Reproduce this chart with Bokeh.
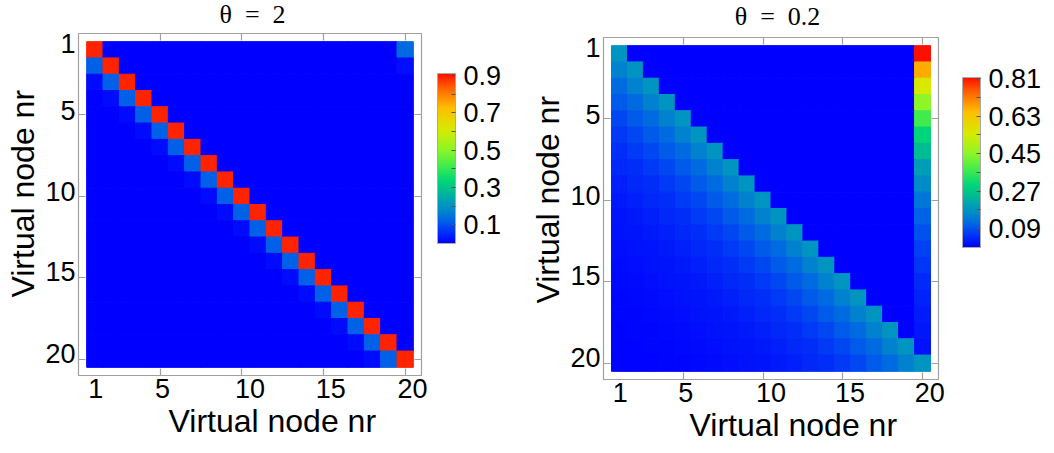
import numpy as np
from bokeh.plotting import figure
from bokeh.models import (ColumnDataSource, LinearColorMapper, ColorBar, FixedTicker,
                          LinearAxis, Range1d, Title, Label)
from bokeh.layouts import row, column
from bokeh.embed import file_html
from bokeh.resources import INLINE

# ---------------- data ----------------
nodes = list(range(1, 21))
tick_labels = ["1", "5", "10", "15", "20"]
tick_marks = [5, 10, 15, 20]
# where the tick labels sit (the reference nudges them off the tick marks)
x_label_pos = [1.05, 5.15, 10.5, 15.45, 20.45]
y_label_pos = [0.62, 4.72, 9.68, 14.6, 19.63]

# theta = 2 : value on the diagonal band k below the diagonal (k = 0..19)
theta2_band = [0.89, 0.12, 0.016, 0.002, 0.0003, 0.0, 0.0, 0.0, 0.0, 0.0,
               0.0, 0.0, 0.0, 0.0, 0.0, 0.0, 0.0, 0.0, 0.0, 0.0]
# theta = 2 : last column (node 20), rows 1..19
theta2_last_col = [0.135, 0.018, 0.0025, 0.0003, 0.0, 0.0, 0.0, 0.0, 0.0, 0.0,
                   0.0, 0.0, 0.0, 0.0, 0.0, 0.0, 0.0, 0.0, 0.0]
theta2_cbar_ticks = [0.1, 0.3, 0.5, 0.7, 0.9]
theta2_cbar_minor = [0.2, 0.4, 0.6, 0.8]
theta2_cbar_max = 0.91

# theta = 0.2
theta02_band = [0.18, 0.15, 0.12, 0.10, 0.081, 0.066, 0.054, 0.045, 0.037, 0.030,
                0.024, 0.020, 0.016, 0.013, 0.011, 0.009, 0.0074, 0.006, 0.005, 0.004]
theta02_last_col = [0.82, 0.67, 0.55, 0.45, 0.37, 0.30, 0.25, 0.20, 0.165, 0.135,
                    0.11, 0.09, 0.074, 0.061, 0.05, 0.041, 0.033, 0.027, 0.022]
theta02_cbar_ticks = [0.09, 0.27, 0.45, 0.63, 0.81]
theta02_cbar_minor = [0.18, 0.36, 0.54, 0.72]
theta02_cbar_max = 0.815

# ---------------- palette ----------------
stops = [(0.00, (0, 0, 255)), (0.09, (0, 65, 245)), (0.135, (0, 100, 230)),
         (0.20, (0, 140, 200)), (0.25, (0, 160, 180)), (0.30, (0, 185, 150)),
         (0.37, (0, 215, 120)), (0.45, (60, 235, 80)), (0.55, (140, 245, 40)),
         (0.67, (215, 235, 0)), (0.80, (255, 190, 0)), (0.92, (255, 95, 0)),
         (1.00, (255, 15, 0))]
sf = np.array([s[0] for s in stops])
sc = np.array([s[1] for s in stops], dtype=float)
palette = []
for t in np.linspace(0, 1, 256):
    r = np.interp(t, sf, sc[:, 0]); g = np.interp(t, sf, sc[:, 1]); b = np.interp(t, sf, sc[:, 2])
    palette.append("#%02x%02x%02x" % (int(round(r)), int(round(g)), int(round(b))))

FONT = "Liberation Sans"
GRAY = "#a0a0a0"
SP = "\u2002"


def build_matrix(band, last_col):
    xs, ys, vs = [], [], []
    for i in nodes:
        for j in nodes:
            if j <= i:
                v = band[i - j]
            elif j == 20:
                v = last_col[i - 1]
            else:
                v = 0.0
            xs.append(j); ys.append(i); vs.append(v)
    return ColumnDataSource(dict(x=xs, y=ys, v=vs))


def panel(title, band, last_col, cticks, cminor, cmax, fw, fh, bl, br, bt, bb,
          cb_loc, xt_off, yt_off, title_x, title_y):
    p = figure(frame_width=fw, frame_height=fh, x_range=Range1d(0, 21), y_range=Range1d(21, 0),
               output_backend="svg", toolbar_location=None,
               min_border_left=bl, min_border_right=br, min_border_top=bt, min_border_bottom=bb)
    p.title = None
    p.grid.visible = False
    p.outline_line_color = GRAY
    p.outline_line_width = 1.2
    p.background_fill_color = "white"
    p.border_fill_color = "white"

    mapper = LinearColorMapper(palette=palette, low=0, high=cmax)
    src = build_matrix(band, last_col)
    p.rect(x="x", y="y", width=1, height=1, source=src,
           fill_color={"field": "v", "transform": mapper},
           line_color={"field": "v", "transform": mapper}, line_width=1)

    for ax, pos in ((p.xaxis[0], x_label_pos), (p.yaxis[0], y_label_pos)):
        ax.ticker = FixedTicker(ticks=pos, minor_ticks=tick_marks)
        ax.major_label_overrides = {v: s for v, s in zip(pos, tick_labels)}
        ax.axis_line_color = None
        ax.major_tick_line_color = None
        ax.major_tick_in = 0
        ax.major_tick_out = 0
        ax.minor_tick_in = 7
        ax.minor_tick_out = 0
        ax.minor_tick_line_color = GRAY
        ax.minor_tick_line_width = 1.2
        ax.major_label_text_font = FONT
        ax.major_label_text_font_size = "27px"
        ax.major_label_text_color = "black"
        ax.major_label_standoff = 3

    for loc in ("above", "right"):
        ax = LinearAxis(ticker=FixedTicker(ticks=[], minor_ticks=tick_marks),
                        axis_line_color=None, major_label_standoff=0,
                        major_tick_in=0, major_tick_out=0, major_tick_line_color=None,
                        minor_tick_in=7, minor_tick_out=0, minor_tick_line_color=GRAY,
                        minor_tick_line_width=1.2)
        p.add_layout(ax, loc)

    p.add_layout(Title(text="Virtual node nr", align="left", offset=xt_off, standoff=0,
                       text_font=FONT, text_font_size="32px", text_font_style="normal",
                       text_color="black"), "below")
    p.add_layout(Title(text="Virtual node nr", align="left", offset=yt_off, standoff=4,
                       text_font=FONT, text_font_size="32px", text_font_style="normal",
                       text_color="black"), "left")
    p.add_layout(Label(x=title_x, y=title_y, x_units="screen", y_units="screen", text=title,
                       text_align="center", text_baseline="alphabetic",
                       text_font="Liberation Serif", text_font_size="26px",
                       text_color="black"), "above")

    cb = ColorBar(color_mapper=mapper,
                  ticker=FixedTicker(ticks=cticks, minor_ticks=cminor),
                  major_label_overrides={t: str(t) for t in cticks},
                  width=18, height=170, location=cb_loc, padding=0, margin=0,
                  label_standoff=8,
                  major_label_text_font=FONT, major_label_text_font_size="27px",
                  major_label_text_color="black",
                  major_tick_in=4, major_tick_out=0, major_tick_line_color="#555555",
                  minor_tick_in=4, minor_tick_out=0, minor_tick_line_color="#555555",
                  bar_line_color="#aaaaaa", border_line_color=None,
                  background_fill_color=None)
    p.add_layout(cb, "right")
    return p


p1 = panel("θ" + SP + "=" + SP + "2", theta2_band, theta2_last_col, theta2_cbar_ticks,
           theta2_cbar_minor, theta2_cbar_max, 343, 342, 78, 99, 33, 78, (16, 132), 90, 78,
           174, 19)
p2 = panel("θ" + SP + "=" + SP + "0.2", theta02_band, theta02_last_col, theta02_cbar_ticks,
           theta02_cbar_minor, theta02_cbar_max, 335, 342, 83, 116, 37, 74, (24, 132), 86, 76,
           174, 21)

layout = row(column(p1), column(p2), spacing=0)
open("out.html", "w").write(file_html(layout, INLINE))
